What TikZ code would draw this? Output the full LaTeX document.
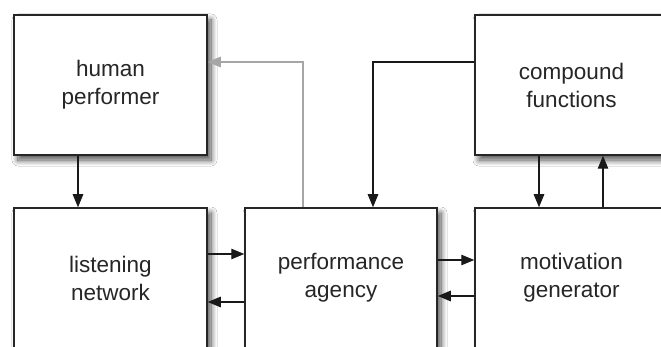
\documentclass[tikz,border=0pt]{standalone}
\usepackage{fontspec}
\setmainfont{Liberation Sans}
\usetikzlibrary{arrows.meta,shadows.blur}
\begin{document}
\begin{tikzpicture}[x=1pt,y=-1pt,
  blockbox/.style={draw=black!85, line width=1.5pt, fill=white, rectangle,
    minimum width=193pt, minimum height=140pt, align=center, inner sep=0pt,
    font=\fontsize{22.5}{28}\selectfont, text=black!85,
    blur shadow={shadow xshift=4pt, shadow yshift=-5pt, shadow blur radius=6pt, shadow blur steps=12, shadow opacity=70}},
  arr/.style={line width=1.2pt, draw=black!90, -{Triangle[length=13pt,width=10.5pt]}},
  grayarr/.style={line width=1.2pt, draw=black!35, -{Triangle[length=13pt,width=10.5pt,fill=black!35]}}
]
\useasboundingbox (0,0) rectangle (661,347);
\clip (0,0) rectangle (661,347);
\fill[white] (0,0) rectangle (661,347);
\node[blockbox] (hp) at (110.5,85) {human\\performer};
\node[blockbox] (cf) at (571.5,85) {compound\\functions};
\node[blockbox] (ln) at (110.5,278) {listening\\network};
\node[blockbox, minimum width=192pt] (pa) at (341,278) {performance\\agency};
\node[blockbox] (mg) at (571.5,278) {motivation\\generator};
\draw[arr] (hp.south -| 78,0) -- (ln.north -| 78,0);
\draw[grayarr] (pa.north -| 303,0) |- (hp.east |- 0,62);
\draw[arr] (cf.west |- 0,62) -| (pa.north -| 373,0);
\draw[arr] (cf.south -| 539,0) -- (mg.north -| 539,0);
\draw[arr] (mg.north -| 603,0) -- (cf.south -| 603,0);
\draw[arr] (ln.east |- 0,254) -- (pa.west |- 0,254);
\draw[arr] (pa.west |- 0,302) -- (ln.east |- 0,302);
\draw[arr] (pa.east |- 0,260) -- (mg.west |- 0,260);
\draw[arr] (mg.west |- 0,296) -- (pa.east |- 0,296);
\end{tikzpicture}
\end{document}
